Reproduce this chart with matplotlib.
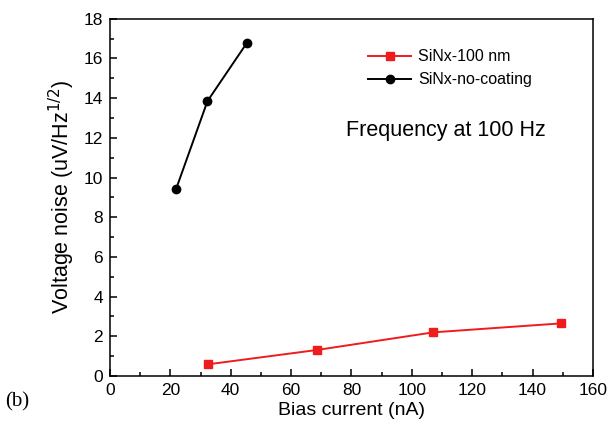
import matplotlib
matplotlib.use("Agg")
import matplotlib.pyplot as plt
from matplotlib.ticker import MultipleLocator

plt.rcParams['font.family'] = ['Liberation Sans', 'DejaVu Sans']

# data
black_x = [21.9, 32.3, 45.4]
black_y = [9.42, 13.85, 16.79]
red_x = [32.5, 68.5, 107.1, 149.3]
red_y = [0.59, 1.31, 2.2, 2.65]

fig = plt.figure(figsize=(6.11, 4.32), dpi=100)
ax = fig.add_axes([0.18, 0.1296, 0.7905, 0.8271])

ax.plot(red_x, red_y, color='#ee1c1c', marker='s', markersize=6, linewidth=1.4,
        label='SiNx-100 nm')
ax.plot(black_x, black_y, color='black', marker='o', markersize=6, linewidth=1.4,
        label='SiNx-no-coating')

ax.set_xlim(0, 160)
ax.set_ylim(0, 18)
ax.xaxis.set_major_locator(MultipleLocator(20))
ax.xaxis.set_minor_locator(MultipleLocator(10))
ax.yaxis.set_major_locator(MultipleLocator(2))
ax.yaxis.set_minor_locator(MultipleLocator(1))
ax.tick_params(which='both', direction='in', top=False, right=False, labelsize=12.5, width=1.1)
ax.tick_params(which='major', length=5, pad=5)
ax.tick_params(which='minor', length=3)
for s in ax.spines.values():
    s.set_linewidth(1.1)

ax.set_xlabel('Bias current (nA)', fontsize=14, labelpad=3)
ax.set_ylabel('Voltage noise (uV/Hz$^{1/2}$)', fontsize=15.5, labelpad=5)

ax.legend(loc='upper left', bbox_to_anchor=(0.505, 0.955), frameon=False, fontsize=11.5,
          handlelength=2.7, handletextpad=0.4, labelspacing=0.5)
ax.text(0.696, 0.688, 'Frequency at 100 Hz', transform=ax.transAxes, fontsize=15.5,
        ha='center', va='center')

fig.text(0.008, 0.07, '(b)', fontsize=15, family=['Liberation Serif', 'DejaVu Serif'],
         ha='left', va='center')

fig.savefig('out.png', dpi=100)
